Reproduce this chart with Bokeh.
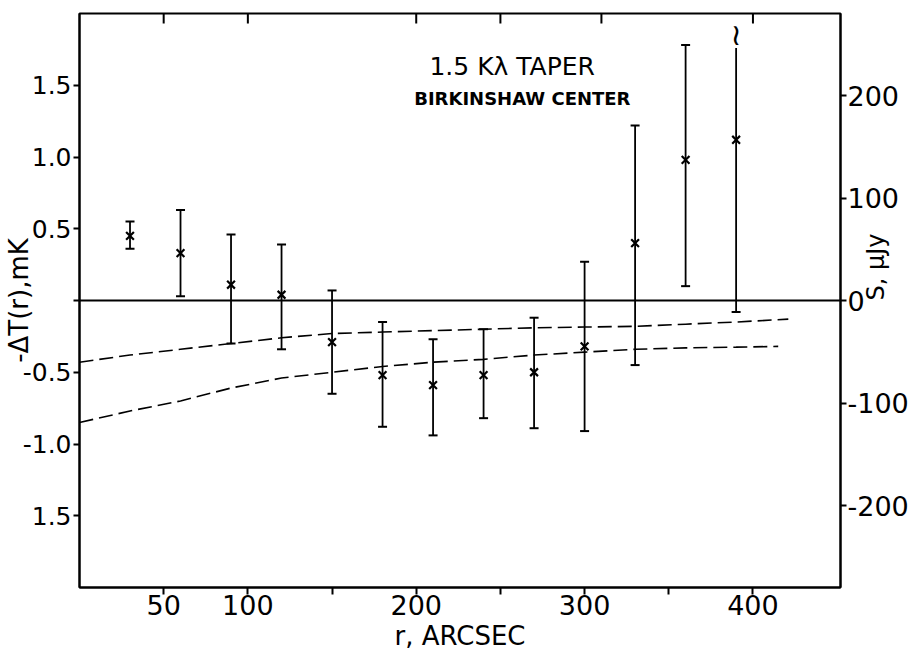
import math
from bokeh.plotting import figure
from bokeh.models import Range1d, LinearAxis, FixedTicker, Span, Label, ColumnDataSource
from bokeh.embed import file_html
from bokeh.resources import INLINE
from bokeh.core.properties import value

# ---------------- data ----------------
r = [30, 60, 90, 120, 150, 180, 210, 240, 270, 300, 330, 360, 390]
dT = [0.45, 0.33, 0.11, 0.04, -0.29, -0.52, -0.59, -0.52, -0.50, -0.32, 0.40, 0.98, 1.12]
dT_hi = [0.55, 0.63, 0.46, 0.39, 0.07, -0.15, -0.27, -0.20, -0.12, 0.27, 1.22, 1.78, 1.76]
dT_lo = [0.36, 0.03, -0.30, -0.34, -0.65, -0.88, -0.94, -0.82, -0.89, -0.91, -0.45, 0.10, -0.08]
hi_capped = [True, True, True, True, True, True, True, True, True, True, True, True, False]

r_upper = [0, 30, 60, 90, 120, 150, 180, 210, 240, 270, 300, 330, 360, 390, 421]
model_upper = [-0.43, -0.38, -0.34, -0.30, -0.26, -0.23, -0.22, -0.21, -0.20, -0.19,
               -0.185, -0.18, -0.165, -0.15, -0.13]
r_lower = [0, 30, 60, 90, 120, 150, 180, 210, 240, 270, 300, 330, 360, 390, 415]
model_lower = [-0.85, -0.77, -0.70, -0.61, -0.54, -0.50, -0.46, -0.43, -0.41, -0.38,
               -0.36, -0.34, -0.33, -0.325, -0.32]

x_ticks = [50, 100, 150, 200, 250, 300, 350, 400]
x_labels = ["50", "100", "", "200", "", "300", "", "400"]
top_ticks = [50, 100, 200, 250, 310, 400]
left_ticks = [1.5, 1.0, 0.5, 0.0, -0.5, -1.0, -1.5]
left_labels = ["1.5", "1.0", "0.5", "", "-0.5", "-1.0", "1.5"]
right_ticks = [200, 100, 0, -100, -200]
right_labels = ["200", "100", "0", "-100", "-200"]

title1 = "1.5 Kλ TAPER"
title2 = "BIRKINSHAW CENTER"
xlabel = "r, ARCSEC"
ylabel = "-ΔT(r),mK"
y2label = "S, μJy"

FONT = "DejaVu Sans"
Y_MIN, Y_MAX = -2.0, 2.0
TOP_TICK_LEN = 0.07  # in mK, about 10 px

# ---------------- figure ----------------
p = figure(width=918, height=654,
           x_range=Range1d(0, 452), y_range=Range1d(Y_MIN, Y_MAX),
           output_backend="svg", toolbar_location=None,
           x_axis_location=None, y_axis_location=None,
           min_border_left=79, min_border_right=78,
           min_border_top=13, min_border_bottom=67)
p.extra_y_ranges = {"s": Range1d(-280, 280)}
p.outline_line_color = "black"
p.outline_line_width = 2
p.background_fill_color = "white"
p.border_fill_color = "white"
p.xgrid.visible = False
p.ygrid.visible = False


def style(ax, size="25px"):
    ax.axis_line_color = "black"
    ax.axis_line_width = 2
    ax.major_tick_line_color = "black"
    ax.major_tick_line_width = 2
    ax.minor_tick_line_color = None
    ax.major_label_text_font = FONT
    ax.major_label_text_font_size = size
    ax.major_label_text_color = "black"
    ax.axis_label_text_font = FONT
    ax.axis_label_text_font_style = "normal"
    ax.axis_label_text_color = "black"


left = LinearAxis(ticker=FixedTicker(ticks=left_ticks),
                  major_label_overrides=dict(zip(left_ticks, left_labels)),
                  major_tick_in=0, major_tick_out=6, major_label_standoff=2,
                  axis_label=ylabel)
style(left)
left.axis_label_text_font_size = "26px"
left.axis_label_standoff = -14
p.add_layout(left, "left")

right = LinearAxis(y_range_name="s", ticker=FixedTicker(ticks=right_ticks),
                   major_label_overrides=dict(zip(right_ticks, right_labels)),
                   major_tick_in=0, major_tick_out=6, major_label_standoff=1,
                   axis_label=y2label)
style(right, "27px")
right.axis_label_text_font_size = "24px"
right.axis_label_standoff = -36
right.axis_label_orientation = math.pi / 2
p.add_layout(right, "right")

bottom = LinearAxis(ticker=FixedTicker(ticks=x_ticks),
                    major_label_overrides=dict(zip(x_ticks, x_labels)),
                    major_tick_in=0, major_tick_out=7, major_label_standoff=0,
                    axis_label=xlabel)
style(bottom, "27px")
bottom.axis_label_text_font_size = "26px"
bottom.axis_label_standoff = 3
p.add_layout(bottom, "below")

# inner tick marks along the top edge
p.segment(x0=top_ticks, y0=[Y_MAX] * len(top_ticks),
          x1=top_ticks, y1=[Y_MAX - TOP_TICK_LEN] * len(top_ticks),
          line_color="black", line_width=2)

# zero line
p.add_layout(Span(location=0, dimension="width", line_color="black", line_width=2))

# model (dashed) curves
p.line(r_upper, model_upper, line_color="black", line_width=1.6, line_dash="14 6")
p.line(r_lower, model_lower, line_color="black", line_width=1.6, line_dash="14 6")

# error bars
src = ColumnDataSource(dict(r=r, dT=dT, hi=dT_hi, lo=dT_lo))
p.segment(x0="r", y0="lo", x1="r", y1="hi", source=src, line_color="black", line_width=1.8)
cap_r = [ri for ri, c in zip(r, hi_capped) if c]
cap_hi = [h for h, c in zip(dT_hi, hi_capped) if c]
p.scatter(cap_r, cap_hi, marker="dash", size=9, line_color="black", line_width=2)
p.scatter(r, dT_lo, marker="dash", size=9, line_color="black", line_width=2)
# break symbol on the uncapped bar
brk_r = [ri for ri, c in zip(r, hi_capped) if not c]
brk_hi = [h for h, c in zip(dT_hi, hi_capped) if not c]
p.text(brk_r, brk_hi, text=["≀"] * len(brk_r), text_font=value(FONT),
       text_font_size="30px", text_align="center", text_baseline="bottom",
       text_color="black", y_offset=4)
# points
p.scatter("r", "dT", source=src, marker="x", size=11, line_color="black", line_width=2.2)

# titles inside the plot
p.add_layout(Label(x=257, y=1.63, text=title1, text_font=FONT, text_font_size="25px",
                   text_align="center", text_baseline="middle", text_color="black"))
p.add_layout(Label(x=263, y=1.41, text=title2, text_font=FONT, text_font_size="18px",
                   text_font_style="bold", text_align="center", text_baseline="middle",
                   text_color="black"))

open("out.html", "w").write(file_html(p, INLINE))
